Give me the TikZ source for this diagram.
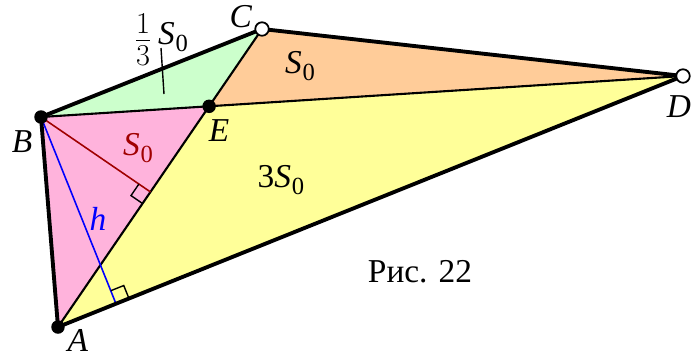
\documentclass[tikz,border=0pt]{standalone}
\usepackage{fontspec}
\setmainfont{Liberation Serif}
\usetikzlibrary{calc}
\definecolor{areagreen}{RGB}{204,255,204}
\definecolor{areaorange}{RGB}{255,204,153}
\definecolor{areapink}{RGB}{255,179,220}
\definecolor{areayellow}{RGB}{255,255,153}
\definecolor{darkred}{RGB}{160,0,0}
\tikzset{
    outline/.style={line width=2.2pt, line join=round},
    innerline/.style={line width=1.2pt},
    rightangle/.style={line width=0.8pt},
    fulldot/.style={circle, fill=black, inner sep=0pt, minimum size=0.27cm},
    opendot/.style={circle, draw=black, fill=white, line width=1pt, inner sep=0pt, minimum size=0.27cm},
    lbl/.style={font=\fontsize{19}{23}\selectfont\rmfamily}
}
\newcommand{\Szero}{\textit{S}\kern0.5pt\raisebox{-0.4ex}{\fontsize{14}{16}\selectfont 0}}

\begin{document}
\begin{tikzpicture}[x=0.02cm, y=-0.02cm]
    \useasboundingbox (0,0) rectangle (697,356);
    \coordinate (A) at (58,327);
    \coordinate (B) at (41,117);
    \coordinate (C) at (262,29);
    \coordinate (D) at (683,76);
    \coordinate (E) at (intersection of A--C and B--D);

    % areas
    \fill[areagreen] (B) -- (C) -- (E) -- cycle;
    \fill[areaorange] (C) -- (D) -- (E) -- cycle;
    \fill[areapink] (A) -- (B) -- (E) -- cycle;
    \fill[areayellow] (A) -- (E) -- (D) -- cycle;

    \draw[innerline] (B) -- (D);
    \draw[innerline] (A) -- (C);

    % heights
    \coordinate (H1) at ($(A)!(B)!(C)$);
    \coordinate (H2) at ($(A)!(B)!(D)$);
    \draw[darkred, line width=0.9pt] (B) -- (H1);
    \draw[blue, line width=0.9pt] (B) -- (H2);
    \coordinate (m1) at ($(H1)!0.28cm!(A)$);
    \coordinate (m2) at ($(H1)!0.28cm!(B)$);
    \draw[rightangle] (m1) -- ($(m1)+(m2)-(H1)$) -- (m2);
    \coordinate (m3) at ($(H2)!0.28cm!(D)$);
    \coordinate (m4) at ($(H2)!0.28cm!(B)$);
    \draw[rightangle] (m3) -- ($(m3)+(m4)-(H2)$) -- (m4);

    \draw[outline] (A) -- (B) -- (C) -- (D) -- cycle;

    \node[fulldot] (dotA) at (A) {};
    \node[fulldot] (dotB) at (B) {};
    \node[fulldot] (dotE) at (E) {};
    \node[opendot] (dotC) at (C) {};
    \node[opendot] (dotD) at (D) {};

    \node[lbl] (labA) at (78,340) {\textit{A}};
    \node[lbl] (labB) at (22,142) {\textit{B}};
    \node[lbl] (labC) at (241,17) {\textit{C}};
    \node[lbl] (labD) at (679,107) {\textit{D}};
    \node[lbl] (labE) at (219,131) {\textit{E}};

    \node[font=\fontsize{24}{26}\selectfont] (third) at (143,40) {$\frac{1}{3}$};
    \node[lbl] (thirdS) at (173,37) {\Szero};
    \coordinate (tail) at (161,48);
    \coordinate (tip) at (164,94);
    \draw[line width=0.8pt] (tail) -- (tip);
    \node[lbl] (sorange) at (300,66) {\Szero};
    \node[lbl, text=darkred] (sred) at (138,148) {\Szero};
    \node[lbl] (syellow) at (281,180) {3\Szero};
    \node[lbl, text=blue] (hlab) at (98,219) {\textit{h}};
    \node[lbl] (fig) at (420,272) {Рис. 22};
\end{tikzpicture}
\end{document}
